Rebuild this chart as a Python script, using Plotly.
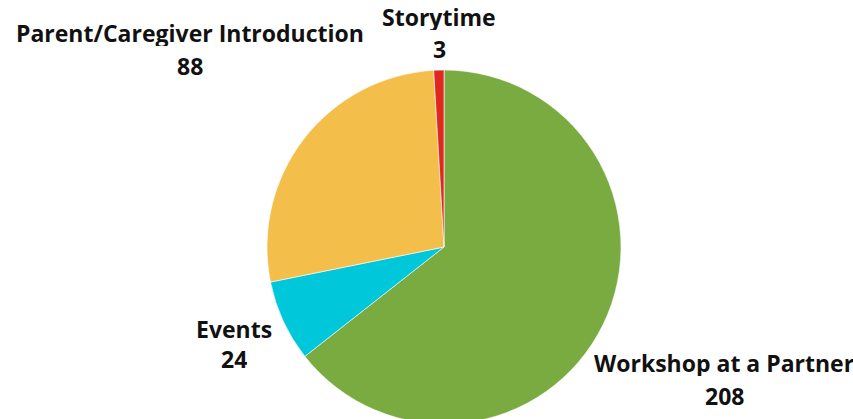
import plotly.graph_objects as go

labels = ["Workshop at a Partner", "Events", "Parent/Caregiver Introduction", "Storytime"]
values = [208, 24, 88, 3]
colors = ["#7AAB41", "#00C8DA", "#F4BE4B", "#E0291E"]

W, H = 853, 430
T, B = 70, 6
R = 177
CX = 444

# label placement (pixel centres in the picture)
lab_px = [724, 234, 190, 439]
lab_py = [363, 329, 33, 17]
val_py = [396, 359, 66, 49]


def px_to_paper(x, y):
    return x / W, 1 - (y - T) / (H - T - B)


fig = go.Figure(go.Pie(
    labels=labels, values=values, sort=False, direction="clockwise", rotation=0,
    marker=dict(colors=colors, line=dict(color="white", width=0.6)),
    textinfo="none", hoverinfo="label+value",
    domain=dict(x=[(CX - R) / W, (CX + R) / W], y=[0, 1]),
    showlegend=False,
))

font = dict(family="Open Sans", size=23, color="#111111", weight="bold")
for lab, v, x, y1, y2 in zip(labels, values, lab_px, lab_py, val_py):
    for txt, yy in ((lab, y1), (str(v), y2)):
        ax, ay = px_to_paper(x, yy)
        fig.add_annotation(x=ax, y=ay, xref="paper", yref="paper",
                           text=txt, showarrow=False, font=font,
                           xanchor="center", yanchor="middle", height=26)

fig.update_layout(width=W, height=H, margin=dict(l=0, r=0, t=T, b=B),
                  paper_bgcolor="white", plot_bgcolor="white")
fig.write_html("out.html", config={"displayModeBar": False},
               post_script="document.body.style.margin='0';document.body.style.overflow='hidden';document.documentElement.style.overflow='hidden';")
